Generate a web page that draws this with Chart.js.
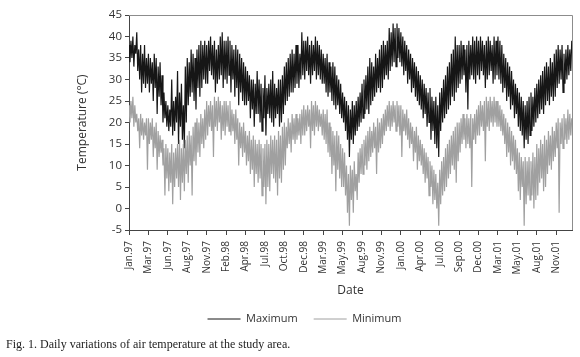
<!DOCTYPE html>
<html>
<head>
<meta charset="utf-8">
<script src="https://cdn.jsdelivr.net/npm/chart.js@4"></script>
<style>
  html, body { margin: 0; padding: 0; background: #fff; }
  #wrap { position: relative; width: 580px; height: 357px; }
  #caption {
    position: absolute; left: 6px; top: 337px;
    font-family: "Liberation Serif", "Times New Roman", serif;
    font-size: 12px; color: #222; white-space: nowrap;
  }
</style>
</head>
<body>
<div id="wrap">
  <canvas id="tempChart" width="580" height="357"></canvas>
  <div id="caption">Fig. 1. Daily variations of air temperature at the study area.</div>
</div>
<script>
// Valores, una muestra cada 4 dias desde el 1 de enero de 1997
const STEP_DAYS = 4;

// Temperatura maxima (°C), 20 valores por cada intervalo de 80 dias
const maxTemp = [
  38, 34, 39, 35, 40, 33, 38, 36, 41, 32, 37, 30, 38, 27, 36, 29, 38, 28, 35, 29,
  36, 27, 35, 29, 34, 25, 36, 28, 35, 22, 33, 26, 34, 24, 31, 20, 27, 21, 25, 19,
  24, 18, 23, 19, 30, 17, 25, 18, 26, 20, 32, 15, 27, 19, 29, 16, 24, 14, 33, 20,
  35, 24, 34, 26, 37, 27, 36, 25, 35, 23, 37, 28, 38, 26, 39, 28, 38, 30, 39, 29,
  38, 29, 39, 32, 40, 31, 38, 30, 39, 27, 37, 29, 38, 30, 40, 31, 41, 28, 39, 30,
  39, 29, 40, 31, 39, 27, 38, 30, 37, 26, 38, 28, 37, 24, 36, 27, 35, 25, 34, 24,
  33, 24, 32, 25, 31, 21, 30, 23, 30, 19, 29, 22, 32, 22, 30, 20, 29, 18, 28, 21,
  31, 17, 28, 22, 29, 21, 30, 20, 32, 19, 29, 21, 28, 22, 30, 19, 30, 20, 31, 22,
  33, 24, 34, 25, 35, 26, 36, 27, 37, 27, 36, 28, 38, 29, 38, 28, 36, 30, 41, 31,
  39, 30, 39, 32, 40, 31, 38, 29, 39, 31, 38, 32, 40, 30, 39, 31, 38, 30, 37, 29,
  36, 29, 35, 27, 36, 26, 34, 27, 33, 25, 34, 24, 33, 23, 31, 24, 30, 22, 29, 21,
  27, 20, 26, 18, 25, 16, 24, 12, 23, 16, 25, 15, 24, 17, 25, 18, 26, 19, 27, 20,
  29, 21, 30, 22, 31, 23, 33, 22, 35, 24, 34, 25, 33, 26, 36, 27, 35, 28, 37, 27,
  38, 28, 39, 30, 38, 31, 39, 30, 42, 32, 41, 33, 43, 34, 42, 33, 43, 35, 42, 34,
  41, 33, 40, 31, 39, 32, 38, 29, 37, 30, 36, 27, 35, 28, 34, 26, 33, 25, 32, 24,
  31, 23, 30, 21, 29, 22, 28, 19, 27, 20, 28, 16, 26, 18, 25, 15, 26, 14, 24, 12,
  27, 18, 28, 20, 30, 21, 31, 22, 33, 23, 34, 24, 36, 26, 37, 25, 40, 27, 38, 28,
  38, 29, 39, 30, 38, 31, 37, 27, 38, 23, 39, 30, 38, 31, 40, 30, 39, 29, 40, 31,
  39, 30, 40, 32, 39, 31, 38, 28, 39, 30, 40, 31, 39, 32, 38, 29, 40, 30, 39, 31,
  40, 30, 39, 29, 38, 27, 36, 28, 35, 25, 34, 26, 33, 23, 32, 24, 30, 21, 29, 22,
  28, 19, 27, 18, 26, 17, 25, 14, 24, 16, 25, 15, 26, 17, 27, 18, 26, 19, 28, 20,
  29, 21, 30, 22, 31, 23, 32, 22, 33, 24, 34, 25, 33, 24, 35, 26, 34, 25, 36, 26,
  37, 28, 38, 29, 37, 30, 38, 27, 36, 29, 37, 30, 38, 31, 37, 32, 39
];

// Temperatura minima (°C)
const minTemp = [
  24, 20, 25, 21, 26, 19, 24, 20, 22, 18, 21, 14, 22, 17, 21, 16, 20, 17, 21, 9,
  21, 15, 20, 16, 21, 12, 19, 14, 20, 9, 18, 12, 17, 13, 16, 10, 14, 3, 15, 7,
  14, 4, 13, 6, 15, 1, 13, 5, 14, 7, 15, 5, 16, 2, 14, 6, 15, 4, 16, 8,
  17, 6, 18, 10, 17, 3, 19, 11, 20, 10, 21, 13, 20, 12, 22, 15, 21, 14, 23, 16,
  25, 17, 24, 19, 25, 18, 24, 12, 26, 19, 25, 18, 26, 20, 25, 16, 24, 18, 25, 17,
  25, 19, 24, 18, 25, 17, 23, 18, 22, 15, 23, 16, 21, 10, 20, 14, 19, 12, 20, 13,
  18, 10, 17, 11, 18, 8, 16, 9, 17, 5, 16, 8, 15, 6, 16, 7, 15, 3, 14, 5,
  15, 1, 16, 5, 15, 4, 17, 8, 16, 7, 17, 6, 16, 3, 18, 7, 17, 6, 19, 9,
  20, 10, 19, 14, 21, 15, 20, 13, 22, 16, 21, 15, 22, 16, 21, 17, 22, 15, 23, 17,
  24, 17, 23, 18, 24, 19, 23, 14, 25, 18, 24, 17, 25, 19, 24, 18, 23, 19, 22, 17,
  23, 16, 22, 15, 23, 13, 20, 12, 19, 8, 18, 10, 17, 4, 18, 9, 17, 7, 15, 5,
  14, 5, 13, 3, 10, -1, 8, -4, 10, 2, 9, -1, 11, 4, 8, 2, 13, 6, 14, 8,
  15, 8, 16, 10, 17, 9, 18, 11, 19, 12, 18, 13, 20, 14, 19, 8, 21, 13, 20, 14,
  21, 15, 22, 17, 23, 18, 24, 19, 25, 18, 24, 19, 25, 20, 24, 18, 25, 19, 24, 17,
  24, 12, 23, 18, 22, 17, 23, 16, 21, 14, 20, 15, 19, 11, 18, 13, 19, 9, 17, 11,
  16, 10, 15, 8, 14, 6, 13, 7, 12, 3, 11, 5, 10, 1, 9, 2, 8, 0, 6, -4,
  9, 1, 11, 3, 12, 4, 14, 5, 15, 7, 16, 8, 17, 10, 18, 9, 19, 6, 20, 11,
  20, 13, 21, 15, 22, 16, 21, 14, 22, 15, 21, 14, 22, 5, 21, 16, 22, 15, 23, 17,
  24, 17, 25, 19, 24, 18, 25, 11, 26, 19, 25, 18, 26, 20, 25, 19, 26, 20, 25, 19,
  25, 19, 24, 18, 23, 17, 22, 15, 21, 12, 20, 13, 19, 10, 18, 11, 17, 9, 16, 8,
  14, 4, 13, 2, 12, 5, 11, -4, 12, 1, 11, 3, 12, 2, 11, 3, 13, 0, 12, 2,
  15, 3, 14, 6, 16, 7, 15, 4, 17, 5, 16, 8, 18, 10, 17, 9, 19, 11, 18, 12,
  20, 14, 21, -1, 20, 15, 21, 14, 22, 16, 21, 15, 23, 16, 22, 17, 21
];

// Etiquetas del eje X, una cada 80 dias
const TICK_DAYS = 80;
const tickLabels = [
  'Jan.97', 'Mar.97', 'Jun.97', 'Aug.97', 'Nov.97', 'Feb.98', 'Apr.98', 'Jul.98',
  'Oct.98', 'Dec.98', 'Mar.99', 'May.99', 'Aug.99', 'Nov.99', 'Jan.00', 'Apr.00',
  'Jul.00', 'Sep.00', 'Dec.00', 'Mar.01', 'May.01', 'Aug.01', 'Nov.01'
];

const days = maxTemp.map((_, i) => i * STEP_DAYS);
const FONT = 'Open Sans';

// Marco gris arriba y a la derecha del area del grafico
const framePlugin = {
  id: 'frame',
  afterDraw(chart) {
    const { ctx, chartArea: a } = chart;
    ctx.save();
    ctx.strokeStyle = '#8c8c8c';
    ctx.lineWidth = 1;
    ctx.beginPath();
    ctx.moveTo(a.left, a.top + 0.5);
    ctx.lineTo(a.right + 0.5, a.top + 0.5);
    ctx.lineTo(a.right + 0.5, a.bottom);
    ctx.stroke();
    ctx.restore();
  }
};

const ctx = document.getElementById('tempChart').getContext('2d');

new Chart(ctx, {
  type: 'line',
  data: {
    labels: days,
    datasets: [{
      label: 'Maximum',
      data: maxTemp,
      borderColor: '#161616',
      backgroundColor: '#161616',
      borderWidth: 1.2,
      pointRadius: 0,
      tension: 0,
      order: 1
    }, {
      label: 'Minimum',
      data: minTemp,
      borderColor: '#a0a0a0',
      backgroundColor: '#a0a0a0',
      borderWidth: 1.2,
      pointRadius: 0,
      tension: 0,
      order: 0
    }]
  },
  options: {
    responsive: false,
    animation: false,
    layout: { padding: { left: 37, right: 8, top: 15, bottom: 22.5 } },
    plugins: {
      legend: {
        position: 'bottom',
        labels: {
          usePointStyle: true,
          pointStyle: 'line',
          pointStyleWidth: 33,
          padding: 16,
          color: '#333',
          font: { family: FONT, size: 11 },
          sort: (a, b) => a.datasetIndex - b.datasetIndex,
          // lineas de la leyenda finas, como en el original
          generateLabels: chart => Chart.defaults.plugins.legend.labels.generateLabels(chart)
            .map(item => Object.assign(item, { lineWidth: 1 }))
        }
      },
      tooltip: { enabled: false }
    },
    scales: {
      x: {
        type: 'linear',
        min: 0,
        max: 1825,
        afterFit: scale => { scale.height = 67.5; },
        ticks: {
          stepSize: TICK_DAYS,
          includeBounds: false,
          autoSkip: false,
          minRotation: 90,
          maxRotation: 90,
          padding: 6,
          color: '#333',
          font: { family: FONT, size: 10 },
          callback: v => tickLabels[Math.round(v / TICK_DAYS)]
        },
        grid: { drawOnChartArea: false, tickLength: 5, color: '#444' },
        border: { color: '#444' },
        title: {
          display: true,
          text: 'Date',
          color: '#333',
          padding: { top: 4, bottom: 0 },
          font: { family: FONT, size: 12 }
        }
      },
      y: {
        min: -5,
        max: 45,
        afterFit: scale => { scale.width = 92; },
        ticks: {
          stepSize: 5,
          padding: 3,
          color: '#333',
          font: { family: FONT, size: 11.5 }
        },
        grid: { drawOnChartArea: false, tickLength: 4, color: '#444' },
        border: { color: '#444' },
        title: {
          display: true,
          text: 'Temperature (°C)',
          color: '#333',
          padding: { top: 38, bottom: 0 },
          font: { family: FONT, size: 12 }
        }
      }
    }
  },
  plugins: [framePlugin]
});
</script>
</body>
</html>
